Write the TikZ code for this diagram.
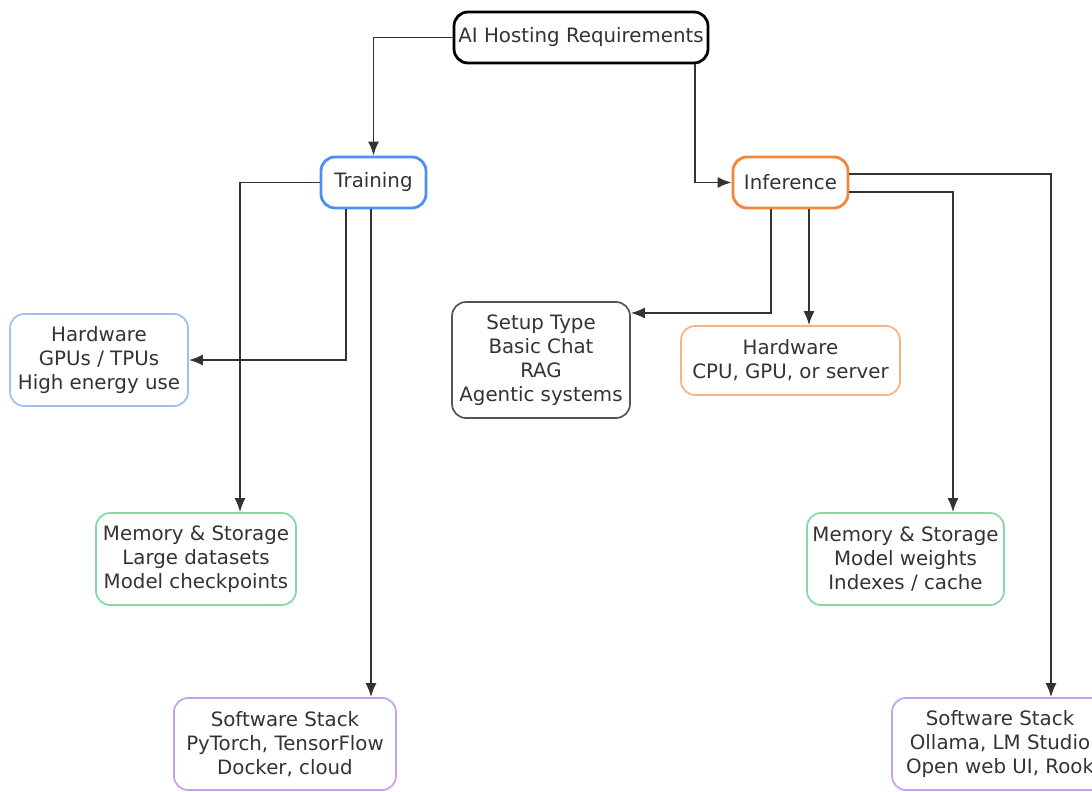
\documentclass[tikz,border=0pt]{standalone}
\usepackage{fontspec}
\setmainfont{DejaVu Sans}
\usetikzlibrary{arrows.meta}
\definecolor{txt}{HTML}{333333}
\definecolor{cblue}{HTML}{4F8EF5}
\definecolor{corange}{HTML}{F5853A}
\definecolor{lblue}{HTML}{9BBEF5}
\definecolor{lorange}{HTML}{F8B286}
\definecolor{cgreen}{HTML}{82D9A4}
\definecolor{cpurple}{HTML}{C6A0F0}
\definecolor{cgray}{HTML}{555555}
\tikzset{
  box/.style={rectangle, rounded corners=14pt, align=center, inner sep=0pt, text=txt,
    font=\fontsize{19.8}{24}\selectfont, line width=1.7pt},
  mainbox/.style={box, line width=2.8pt},
  conn/.style={draw=txt, line width=1.7pt, -{Latex[length=14pt,width=11pt]}}
}
\begin{document}
\begin{tikzpicture}[x=1pt,y=-1pt]
\useasboundingbox (0,0) rectangle (1092,792);
\node[mainbox, draw=black, minimum width=254pt, minimum height=51pt] (ai) at (581,37.5) {AI Hosting Requirements};
\node[mainbox, draw=cblue, minimum width=105pt, minimum height=51pt] (tr) at (373.5,182.5) {\raisebox{-2pt}{Training}};
\node[mainbox, draw=corange, minimum width=115pt, minimum height=51pt] (inf) at (790.5,182.5) {Inference};
\node[box, draw=lblue, minimum width=178pt, minimum height=92pt] (thw) at (99,360) {Hardware\\GPUs / TPUs\\High energy use};
\node[box, draw=cgreen, minimum width=200pt, minimum height=92pt] (tmem) at (196,559) {Memory \& Storage\\Large datasets\\Model checkpoints};
\node[box, draw=cpurple, minimum width=222pt, minimum height=92pt] (tsw) at (285,744) {Software Stack\\PyTorch, TensorFlow\\Docker, cloud};
\node[box, draw=cgray, minimum width=178pt, minimum height=116pt] (setup) at (541,360) {Setup Type\\Basic Chat\\RAG\\Agentic systems};
\node[box, draw=lorange, minimum width=219pt, minimum height=69pt] (ihw) at (790.5,360.5) {Hardware\\CPU, GPU, or server};
\node[box, draw=cgreen, minimum width=197pt, minimum height=92pt] (imem) at (905.5,559) {Memory \& Storage\\Model weights\\Indexes / cache};
\node[box, draw=cpurple, minimum width=216pt, minimum height=92pt] (isw) at (1000,744) {Software Stack\\Ollama, LM Studio\\Open web UI, Rook};

\draw[conn] (ai.west) -| (tr.north);
\draw[conn] (ai.south -| 695,0) |- (inf.west);
\draw[conn] (tr.south -| 346,0) |- (thw.east);
\draw[conn] (tr.west) -| (tmem.north -| 240,0);
\draw[conn] (tr.south -| 371,0) -- (tsw.north -| 371,0);
\draw[conn] (inf.south -| 771,0) |- (setup.east |- 0,313);
\draw[conn] (inf.south -| 809,0) -- (ihw.north -| 809,0);
\draw[conn] (inf.east |- 0,192) -| (imem.north -| 953,0);
\draw[conn] (inf.east |- 0,174) -| (isw.north -| 1051,0);
\end{tikzpicture}
\end{document}
